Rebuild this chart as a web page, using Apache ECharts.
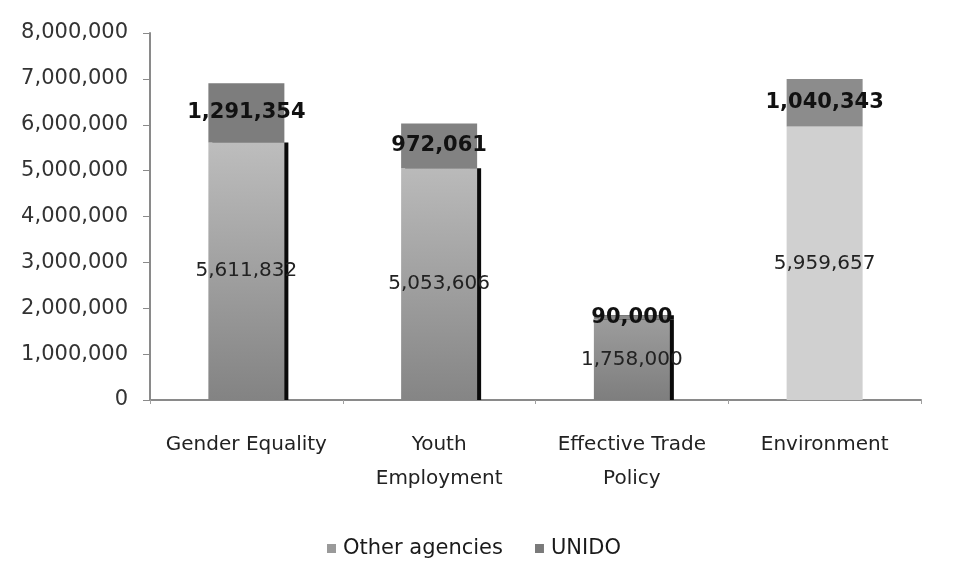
<!DOCTYPE html>
<html>
<head>
<meta charset="utf-8">
<script src="https://cdn.jsdelivr.net/npm/echarts@6/dist/echarts.min.js"></script>
<style>html,body{margin:0;padding:0;background:#fff;}#c{width:954px;height:562px;}</style>
</head>
<body>
<div id="c"></div>
<script>
var categories = ['Gender Equality', 'Youth\nEmployment', 'Effective Trade\nPolicy', 'Environment'];
var otherAgencies = [5611832, 5053606, 1758000, 5959657];
var unido = [1291354, 972061, 90000, 1040343];
var yTicks = { min: 0, max: 8000000, interval: 1000000 };

var FONT = 'DejaVu Sans';
function fmt(v) { return Number(v).toLocaleString('en-US'); }
function grad(top, bottom) {
  return { type: 'linear', x: 0, y: 0, x2: 0, y2: 1, colorStops: [{ offset: 0, color: top }, { offset: 1, color: bottom }] };
}
var shadow = { shadowColor: '#0a0a0a', shadowOffsetX: 4, shadowOffsetY: 0, shadowBlur: 0 };
var otherStyles = [
  Object.assign({ color: grad('#bdbdbd', '#838383') }, shadow),
  Object.assign({ color: grad('#bababa', '#858585') }, shadow),
  Object.assign({ color: grad('#9c9c9c', '#7e7e7e') }, shadow),
  { color: '#d0d0d0' }
];
var unidoStyles = [
  { color: '#7d7d7d' },
  { color: '#828282' },
  Object.assign({ color: '#8a8a8a' }, shadow),
  { color: '#8c8c8c' }
];

var chart = echarts.init(document.getElementById('c'));
chart.setOption({
  backgroundColor: '#ffffff',
  animation: false,
  textStyle: { fontFamily: FONT },
  grid: { left: 150, right: 33, top: 33, bottom: 162 },
  legend: {
    data: ['Other agencies', 'UNIDO'],
    left: 322, top: 533,
    icon: 'rect', itemWidth: 9, itemHeight: 9, itemGap: 32,
    textStyle: { fontFamily: FONT, fontSize: 21, color: '#1a1a1a', padding: [0, 0, 0, 2] }
  },
  xAxis: {
    type: 'category',
    data: categories,
    axisLine: { lineStyle: { color: '#8a8a8a', width: 2 } },
    axisTick: { show: true, alignWithLabel: false, length: 4, lineStyle: { color: '#a0a0a0' } },
    axisLabel: { fontFamily: FONT, fontSize: 20, color: '#222', margin: 28, lineHeight: 34, interval: 0 }
  },
  yAxis: {
    type: 'value',
    min: yTicks.min, max: yTicks.max, interval: yTicks.interval,
    axisLine: { show: true, lineStyle: { color: '#8a8a8a', width: 2 } },
    axisTick: { show: true, length: 7, lineStyle: { color: '#8a8a8a' } },
    splitLine: { show: false },
    axisLabel: { fontFamily: FONT, fontSize: 21, color: '#333', margin: 22, formatter: fmt }
  },
  series: [
    {
      name: 'Other agencies', type: 'bar', stack: 'total', barWidth: 76,
      itemStyle: { color: '#9a9a9a' },
      data: otherAgencies.map(function (v, i) { return { value: v, itemStyle: otherStyles[i] }; }),
      label: { show: true, position: 'inside', fontFamily: FONT, fontSize: 20, color: '#222', formatter: function (p) { return fmt(p.value); } }
    },
    {
      name: 'UNIDO', type: 'bar', stack: 'total', barWidth: 76,
      itemStyle: { color: '#7a7a7a' },
      data: unido.map(function (v, i) { return { value: v, itemStyle: unidoStyles[i] }; }),
      label: { show: true, position: 'inside', fontFamily: FONT, fontSize: 21, fontWeight: 'bold', color: '#111', formatter: function (p) { return fmt(p.value); } }
    }
  ]
});
</script>
</body>
</html>
